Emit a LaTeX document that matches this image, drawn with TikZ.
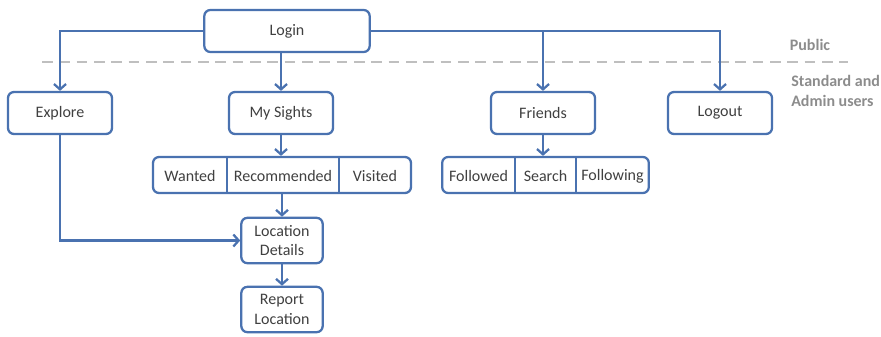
\documentclass[tikz,border=0pt]{standalone}
\usepackage{fontspec}
\setmainfont{Carlito}
\usepackage{tikz}
\definecolor{blue600}{HTML}{4A72B0}
\definecolor{gray700}{HTML}{404040}
\definecolor{gray500}{HTML}{8C8C8C}
\definecolor{gray300}{HTML}{BFBFBF}
\usetikzlibrary{arrows.meta}
\tikzstyle{screen}=[rectangle, rounded corners=4.5pt, draw=blue600, line width=1.7pt, fill=white, text=gray700, align=center, minimum width=78pt, minimum height=31.5pt, inner sep=1pt]
\tikzstyle{tab}=[text=gray700, inner sep=0pt]
\tikzstyle{link}=[draw=blue600, line width=1.7pt, -{Straight Barb[length=4pt, width=9pt]}]

\begin{document}
\begin{tikzpicture}[x=0.75pt, y=-0.75pt, font=\fontsize{12}{14.4}\selectfont]
	\useasboundingbox (0,0) rectangle (881,336);
	\path[draw=gray300, line width=1.7pt, dash pattern=on 8pt off 5pt] (42,62) -- (848,62);
	\node[text=gray500, font=\fontsize{12}{14.4}\selectfont\bfseries] (public) at (810,45){Public};
	\node[text=gray500, font=\fontsize{12}{14.4}\selectfont\bfseries, align=left, anchor=west, inner sep=0pt] (users) at (791,91){Standard and\\Admin users};
	\node[screen, minimum width=124pt] (login) at (287,31){Login};
	\node[screen] (explore) at (60,113){Explore};
	\node[screen] (sights) at (281,113){My Sights};
	\node[screen] (friends) at (543,113){Friends};
	\node[screen] (logout) at (720,113){Logout};
	\node[screen, minimum width=193.5pt, minimum height=27pt] (sightslist) at (282,175){};
	\node[screen, minimum width=155pt, minimum height=27pt] (friendslist) at (545.5,175){};
	\node[screen, minimum width=61pt, minimum height=34pt] (details) at (282,240.5){Location\\Details};
	\node[screen, minimum width=61pt, minimum height=34pt] (report) at (282,309.5){Report\\Location};
	\node[tab] (wanted) at (190,176){Wanted};
	\node[tab] (recommended) at (283,176){Recommended};
	\node[tab] (visited) at (375,176){Visited};
	\node[tab] (followed) at (478.5,176){Followed};
	\node[tab] (search) at (545.5,176){Search};
	\node[tab] (following) at (612.5,176){Following};
	\path[draw=blue600, line width=1.7pt] (227,157) -- (227,193) (339,157) -- (339,193);
	\path[draw=blue600, line width=1.7pt] (515,157) -- (515,193) (576,157) -- (576,193);
	\path[link] (login.west) -| (explore.north);
	\path[link] (login.east) -| (friends.north);
	\path[link] (login.east) -| (logout.north);
	\path[link] (login.south -| sights.north) -- (sights.north);
	\path[link] (sights.south) -- (sights.south |- sightslist.north);
	\path[link] (friends.south) -- (friends.south |- friendslist.north);
	\path[link] (sightslist.south) -- (details.north);
	\path[link] (explore.south) |- (details.west);
	\path[link] (details.south) -- (report.north);
\end{tikzpicture}
\end{document}
